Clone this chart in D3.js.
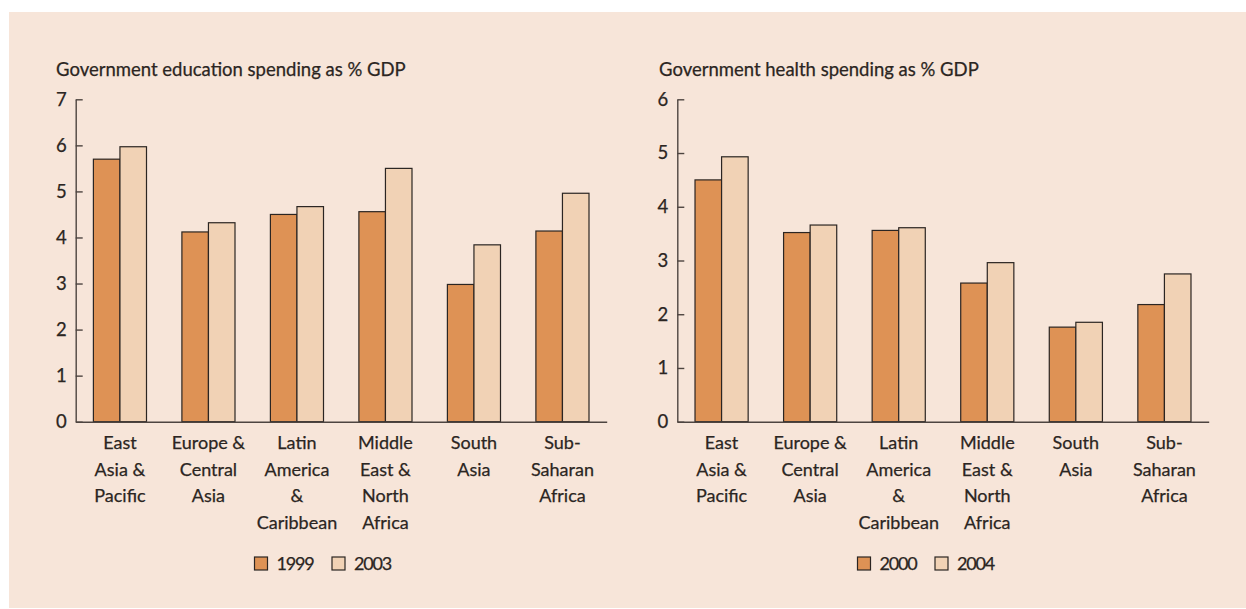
<!DOCTYPE html>
<html>
<head>
<meta charset="utf-8">
<script src="https://cdn.jsdelivr.net/npm/d3@7"></script>
<style>
  html, body { margin: 0; padding: 0; background: #ffffff; }
  svg { display: block; }
  text { font-family: Lato, "Open Sans", sans-serif; fill: #2b2522; stroke: #2b2522; stroke-width: 0.25px; }
</style>
</head>
<body>
<svg id="chart" width="1246" height="609"></svg>
<script>
// ---- Data ----
const categories = [
  ["East", "Asia &", "Pacific"],
  ["Europe &", "Central", "Asia"],
  ["Latin", "America", "&", "Caribbean"],
  ["Middle", "East &", "North", "Africa"],
  ["South", "Asia"],
  ["Sub-", "Saharan", "Africa"]
];
const educationTitle = "Government education spending as % GDP";
const educationYears = ["1999", "2003"];
const education1999 = [5.70, 4.12, 4.50, 4.56, 2.98, 4.14];
const education2003 = [5.97, 4.32, 4.67, 5.50, 3.84, 4.96];
const educationTicks = [0, 1, 2, 3, 4, 5, 6, 7];

const healthTitle = "Government health spending as % GDP";
const healthYears = ["2000", "2004"];
const health2000 = [4.50, 3.52, 3.56, 2.58, 1.76, 2.18];
const health2004 = [4.93, 3.66, 3.61, 2.96, 1.85, 2.75];
const healthTicks = [0, 1, 2, 3, 4, 5, 6];

// ---- Style ----
const colDark = "#de9255";
const colLight = "#f1d2b5";
const bg = "#f7e5d9";
const ink = "#2b2522";
const axisCol = "#4d4440";

const svg = d3.select("#chart");
svg.append("rect").attr("x", 9).attr("y", 12).attr("width", 1246 - 9).attr("height", 596).attr("fill", bg);

function drawPanel(opts) {
  const g = svg.append("g");
  const x0 = opts.left, x1 = opts.right;
  const yTop = 99.3, yBottom = 421.7;
  const keys = categories.map(d => d.join(" "));
  const x = d3.scaleBand().domain(keys).range([x0, x1]).paddingInner(0.4).paddingOuter(0.2);
  const xs = d3.scaleBand().domain([0, 1]).range([0, x.bandwidth()]);
  const y = d3.scaleLinear().domain([0, opts.max]).range([yBottom, yTop]);

  // title
  g.append("text").attr("x", opts.titleX).attr("y", 76)
    .attr("font-size", 18.5).text(opts.title);

  // bars
  const series = [opts.a, opts.b];
  const colors = [colDark, colLight];
  series.forEach((vals, si) => {
    g.selectAll(null).data(vals).enter().append("rect")
      .attr("x", (d, i) => x(keys[i]) + xs(si))
      .attr("y", d => y(d))
      .attr("width", xs.bandwidth())
      .attr("height", d => y(0) - y(d))
      .attr("fill", colors[si])
      .attr("stroke", ink)
      .attr("stroke-width", 1.2);
  });

  // y axis
  const yAxis = d3.axisLeft(y).tickValues(opts.ticks).tickFormat(d3.format("d"))
    .tickSize(-7).tickSizeOuter(0).tickPadding(9);
  const ya = g.append("g").attr("transform", `translate(${x0},0)`).call(yAxis);
  ya.select(".domain").attr("stroke", axisCol).attr("stroke-width", 1.4);
  ya.selectAll(".tick line").attr("stroke", axisCol).attr("stroke-width", 1.4);
  ya.selectAll(".tick text").attr("font-size", 18.5).attr("fill", ink)
    .attr("font-family", "Lato, 'Open Sans', sans-serif");

  // x baseline
  const xAxis = d3.axisBottom(x).tickSize(0).tickSizeOuter(0).tickFormat("");
  const xa = g.append("g").attr("transform", `translate(0,${yBottom})`).call(xAxis);
  xa.select(".domain").attr("stroke", axisCol).attr("stroke-width", 1.4);

  // category labels
  categories.forEach((lines, i) => {
    const t = g.append("text").attr("text-anchor", "middle")
      .attr("x", x(keys[i]) + x.bandwidth() / 2).attr("y", 449)
      .attr("font-size", 18);
    lines.forEach((ln, li) => {
      t.append("tspan").attr("x", x(keys[i]) + x.bandwidth() / 2)
        .attr("dy", li === 0 ? 0 : 26.7).text(ln);
    });
  });

  // legend
  const lg = g.append("g");
  opts.years.forEach((yr, i) => {
    const lx = opts.legendX + i * 77.5;
    lg.append("rect").attr("x", lx).attr("y", 557).attr("width", 13).attr("height", 13)
      .attr("fill", colors[i]).attr("stroke", ink).attr("stroke-width", 1.2);
    lg.append("text").attr("x", lx + 22).attr("y", 570).attr("font-size", 18)
      .attr("letter-spacing", -1.2).text(yr);
  });
}

drawPanel({ left: 75.7, right: 606.7, max: 7, ticks: educationTicks, title: educationTitle,
  titleX: 56, a: education1999, b: education2003, years: educationYears, legendX: 254.5 });
drawPanel({ left: 677.3, right: 1208.7, max: 6, ticks: healthTicks, title: healthTitle,
  titleX: 659, a: health2000, b: health2004, years: healthYears, legendX: 857.5 });
</script>
</body>
</html>
